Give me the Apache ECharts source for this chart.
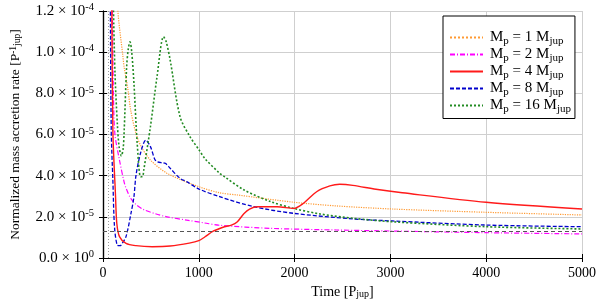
<!DOCTYPE html>
<html><head><meta charset="utf-8">
<script src="https://cdn.jsdelivr.net/npm/echarts@6/dist/echarts.min.js"></script>
<style>html,body{margin:0;padding:0;background:#fff}#c{width:600px;height:304px}</style>
</head><body><div id="c"></div>
<script>
// ---- data (y in units of 1e-5 P_jup^-1) ----
const masses = [1, 2, 4, 8, 16];
const colors = ['#ff9a33', '#ff00ff', '#ff1a1a', '#0000cc', '#228b22'];

const tM1 = [140, 155, 206, 220, 258, 289, 344, 400, 495, 667, 1003, 1217, 1406, 1990, 2437, 3021, 4000, 5000];
const yM1 = [14, 12, 9.86, 9.3, 8.26, 7.19, 6.06, 5.4, 4.76, 4.12, 3.46, 3.17, 3.06, 2.71, 2.53, 2.38, 2.22, 2.09];

const tM2 = [95, 110, 125, 170, 220, 240, 289, 344, 426, 546, 667, 890, 1062, 1217, 1750, 2437, 3021, 4000, 5000];
const yM2 = [13, 7.7, 6.0, 4.8, 3.7, 3.4, 2.9, 2.6, 2.35, 2.15, 2.0, 1.83, 1.7, 1.59, 1.44, 1.36, 1.31, 1.23, 1.17];

const tM4 = [90, 103, 131, 144, 172, 240, 344, 515, 700, 900, 1000, 1062, 1150, 1268, 1340, 1400, 1470, 1530, 1612, 1818, 1990, 2093, 2230, 2368, 2471, 2608, 2849, 3124, 4000, 5000];
const yM4 = [14, 6.2, 2.98, 1.69, 1.04, 0.71, 0.6, 0.55, 0.58, 0.72, 0.84, 1.02, 1.3, 1.52, 1.6, 1.75, 2.15, 2.38, 2.49, 2.49, 2.41, 2.66, 3.22, 3.5, 3.58, 3.53, 3.34, 3.17, 2.71, 2.38];

const tM8 = [75, 86, 103, 120, 148, 175, 189, 240, 292, 323, 344, 392, 447, 495, 540, 564, 620, 650, 701, 804, 873, 1003, 1217, 1577, 1990, 2608, 3021, 4000, 5000];
const yM8 = [14, 6.2, 3.79, 1.52, 0.63, 0.6, 0.63, 1.04, 2.17, 2.98, 4.0, 5.1, 5.73, 5.41, 4.8, 4.68, 4.62, 4.6, 4.36, 3.87, 3.71, 3.35, 2.98, 2.49, 2.17, 1.9, 1.8, 1.6, 1.52];

const tM16 = [105, 125, 150, 168, 192, 210, 220, 247, 265, 282, 300, 323, 357, 392, 412, 426, 495, 564, 632, 660, 701, 804, 907, 1003, 1062, 1217, 1268, 1474, 1750, 1990, 2265, 2608, 3021, 4000, 5000];
const yM16 = [13, 9, 6.5, 5.41, 4.96, 5.3, 6.06, 9.3, 10.2, 10.5, 10, 8.49, 5.57, 3.95, 3.95, 4.28, 6.38, 8.81, 10.75, 10.5, 9.62, 6.87, 5.9, 5.25, 4.84, 4.12, 3.95, 3.3, 2.74, 2.41, 2.14, 1.93, 1.76, 1.52, 1.41];

const refLevel = 1.32;   // horizontal dashed reference
const refTime = 52;      // vertical dotted reference

const yTickMant = ['0.0', '2.0', '4.0', '6.0', '8.0', '1.0', '1.2'];
const yTickExp = ['0', '-5', '-5', '-5', '-5', '-4', '-4'];
const xTicks = ['0', '1000', '2000', '3000', '4000', '5000'];

// ---- chart ----
const FONT = 'Liberation Serif';
const tList = [tM1, tM2, tM4, tM8, tM16];
const yList = [yM1, yM2, yM4, yM8, yM16];
const dashTypes = ['dotted', [5, 2, 1, 2], 'solid', [4, 2], [2, 2]];
const widths = [1.2, 1.2, 1.4, 1.3, 1.6];
const names = masses.map(m => 'M_p = ' + m + ' M_jup');

const series = masses.map((m, i) => ({
  name: names[i], type: 'line', symbol: 'none', smooth: 0.3, clip: true,
  xAxisIndex: 0, yAxisIndex: 0, z: 3 + (i === 2 ? 1 : 0),
  data: tList[i].map((t, k) => [t, yList[i][k]]),
  lineStyle: { color: colors[i], width: widths[i], type: dashTypes[i] },
  itemStyle: { color: colors[i] }
}));
series.push({
  name: 'ref', type: 'line', data: [], xAxisIndex: 0, yAxisIndex: 0,
  markLine: {
    silent: true, symbol: 'none', label: { show: false }, animation: false,
    data: [
      { yAxis: refLevel, lineStyle: { color: '#555', type: [4, 3], width: 1 } },
      { xAxis: refTime, lineStyle: { color: '#999', type: [1, 2], width: 1 } }
    ]
  }
});

function mkRich(fs, sfs, lh) {
  return {
    m: { fontFamily: FONT, fontSize: fs, color: '#000', lineHeight: lh },
    sup: { fontFamily: FONT, fontSize: sfs, color: '#000', lineHeight: sfs + 1, verticalAlign: 'top' },
    sub: { fontFamily: FONT, fontSize: sfs, color: '#000', lineHeight: sfs + 1, verticalAlign: 'bottom' }
  };
}

const chart = echarts.init(document.getElementById('c'), null, { renderer: 'canvas' });
chart.setOption({
  animation: false,
  backgroundColor: '#fff',
  grid: { left: 97, right: 18, top: 11, bottom: 46, show: false },
  legend: {
    data: names, orient: 'vertical', left: 443, top: 16,
    backgroundColor: '#fff', borderColor: '#000', borderWidth: 1, borderRadius: 0,
    padding: [14, 4, 4, 6], itemWidth: 33, itemHeight: 18, itemGap: 0.5,
    itemStyle: { opacity: 0 },
    formatter: n => { const m = n.split(' ')[2]; return '{m|M}{sub|p}{m| = ' + m + ' M}{sub|jup}'; },
    textStyle: { rich: mkRich(15, 11, 18), padding: [0, 0, 0, 2] }
  },
  xAxis: [{
    type: 'value', min: 0, max: 5000, interval: 1000, position: 'bottom',
    name: 'Time [P{sub|jup}]', nameLocation: 'middle', nameGap: 26,
    nameTextStyle: { rich: mkRich(14, 10, 18), fontFamily: FONT, fontSize: 14, color: '#000' },
    axisLine: { lineStyle: { color: '#000', width: 1.2 } },
    axisTick: { inside: true, length: 4, lineStyle: { color: '#000' } },
    axisLabel: { fontFamily: FONT, fontSize: 14, color: '#000', margin: 8, formatter: (v, i) => xTicks[i] },
    splitLine: { show: true, lineStyle: { color: '#cfcfcf', width: 1 } }
  }, {
    type: 'value', min: 0, max: 5000, interval: 1000, position: 'top',
    axisLine: { lineStyle: { color: '#000', width: 1.2 } },
    axisTick: { inside: true, length: 4, lineStyle: { color: '#000' } },
    axisLabel: { show: false }, splitLine: { show: false }
  }],
  yAxis: [{
    type: 'value', min: 0, max: 12, interval: 2, position: 'left',
    name: 'Normalized mass accretion rate [P{sup|-1}{sub|jup}]', nameLocation: 'middle', nameGap: 81,
    nameRotate: 90,
    nameTextStyle: { rich: mkRich(13.5, 9.5, 18), fontFamily: FONT, fontSize: 13.5, color: '#000' },
    axisLine: { lineStyle: { color: '#000', width: 1.2 } },
    axisTick: { inside: true, length: 4, lineStyle: { color: '#000' } },
    axisLabel: {
      margin: 9,
      formatter: (v, i) => '{m|' + yTickMant[i] + ' \u00d7 10}{sup|' + yTickExp[i] + '}',
      rich: mkRich(15, 10.5, 18)
    },
    splitLine: { show: true, lineStyle: { color: '#cfcfcf', width: 1 } }
  }, {
    type: 'value', min: 0, max: 12, interval: 2, position: 'right',
    axisLine: { lineStyle: { color: '#000', width: 1.2 } },
    axisTick: { inside: true, length: 4, lineStyle: { color: '#000' } },
    axisLabel: { show: false }, splitLine: { show: false }
  }],
  series: series
});
</script></body></html>
